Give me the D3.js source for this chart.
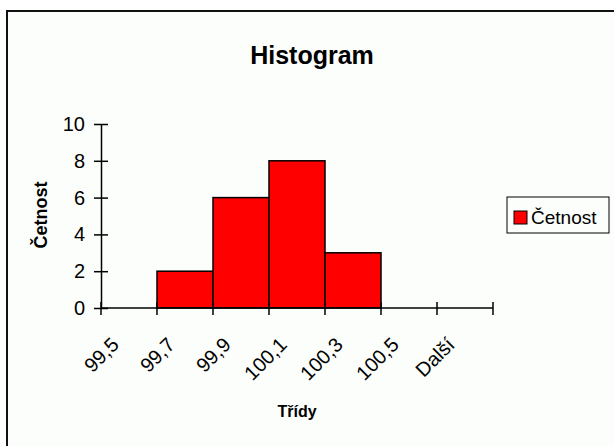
<!DOCTYPE html>
<html>
<head>
<meta charset="utf-8">
<script src="https://cdn.jsdelivr.net/npm/d3@7"></script>
<style>
  body { margin: 0; background: #fff; }
  text { font-family: Arial, "Liberation Sans", sans-serif; fill: #000; }
</style>
</head>
<body>
<svg id="svg" width="614" height="446"></svg>
<script>
// histogram data (Excel style)
const classes = ["99,5", "99,7", "99,9", "100,1", "100,3", "100,5", "Další"];
const counts = [0, 2, 6, 8, 3, 0, 0];
const yTicks = [0, 2, 4, 6, 8, 10];

var width = 614;
var height = 446;
var margin = {top: 124, right: 121, bottom: 138, left: 101};

var svg = d3.select("#svg");

// chart area frame (cut off at right/bottom like the screenshot)
svg.append("rect")
    .attr("x", 7)
    .attr("y", 11)
    .attr("width", 700)
    .attr("height", 500)
    .attr("fill", "#fcfefb")
    .attr("stroke", "#111")
    .attr("stroke-width", 2);

var x = d3.scaleBand()
    .range([margin.left, width - margin.right])
    .domain(classes)
    .padding(0);

var y = d3.scaleLinear()
    .range([height - margin.bottom, margin.top])
    .domain([0, 10]);

svg.append("text") //title
    .attr("x", 312)
    .attr("y", 64)
    .attr("text-anchor", "middle")
    .style("font-size", "25px")
    .style("font-weight", "bold")
    .text("Histogram");

// bars
svg.append("g")
    .selectAll("rect")
    .data(classes.map((c, i) => ({key: c, value: counts[i]})).filter(d => d.value > 0))
    .join("rect")
      .attr("x", d => x(d.key))
      .attr("y", d => y(d.value))
      .attr("width", x.bandwidth())
      .attr("height", d => y(0) - y(d.value))
      .attr("fill", "#ff0000")
      .attr("stroke", "#000")
      .attr("stroke-width", 1.5);

// y axis
var yAxis = svg.append("g")
    .attr("transform", "translate(" + margin.left + ",0)")
    .call(d3.axisLeft(y).tickValues(yTicks).tickSize(7).tickSizeOuter(0).tickPadding(9));
yAxis.selectAll(".tick line").attr("x2", 7).attr("x1", -7);
yAxis.select(".domain").attr("stroke", "#000").attr("stroke-width", 1.5);
yAxis.selectAll(".tick line").attr("stroke", "#000").attr("stroke-width", 1.5);
yAxis.selectAll("text")
    .attr("x", -16)
    .style("font-size", "20px")
    .style("font-family", "Arial, 'Liberation Sans', sans-serif");

// x axis: ticks on class boundaries
var xEdges = classes.map(c => x(c)).concat([x(classes[classes.length - 1]) + x.bandwidth()]);
var xAxis = svg.append("g");
xAxis.append("line")
    .attr("x1", xEdges[0])
    .attr("x2", xEdges[xEdges.length - 1])
    .attr("y1", y(0))
    .attr("y2", y(0))
    .attr("stroke", "#000")
    .attr("stroke-width", 1.5);
xAxis.selectAll(".xtick")
    .data(xEdges)
    .join("line")
      .attr("class", "xtick")
      .attr("x1", d => d)
      .attr("x2", d => d)
      .attr("y1", y(0) - 6)
      .attr("y2", y(0) + 7)
      .attr("stroke", "#000")
      .attr("stroke-width", 1.5);
xAxis.selectAll(".xlabel")
    .data(classes)
    .join("text")
      .attr("class", "xlabel")
      .attr("text-anchor", "end")
      .attr("transform", d => "translate(" + (x(d) + x.bandwidth() / 2 - 9) + "," + 346 + ") rotate(-45)")
      .style("font-size", "20px")
      .text(d => d);

// axis titles
svg.append("text")
    .attr("text-anchor", "middle")
    .attr("transform", "translate(47,215) rotate(-90)")
    .style("font-size", "18px")
    .style("font-weight", "bold")
    .text("Četnost");

svg.append("text")
    .attr("x", 297)
    .attr("y", 417)
    .attr("text-anchor", "middle")
    .style("font-size", "16px")
    .style("font-weight", "bold")
    .text("Třídy");

// legend
var legend = svg.append("g");
legend.append("rect")
    .attr("x", 507)
    .attr("y", 197)
    .attr("width", 102)
    .attr("height", 36)
    .attr("fill", "#fcfefb")
    .attr("stroke", "#000")
    .attr("stroke-width", 1);
legend.append("rect")
    .attr("x", 514)
    .attr("y", 211)
    .attr("width", 13)
    .attr("height", 13)
    .attr("fill", "#ff0000")
    .attr("stroke", "#000")
    .attr("stroke-width", 1);
legend.append("text")
    .attr("x", 531)
    .attr("y", 224)
    .style("font-size", "19px")
    .text("Četnost");
</script>
</body>
</html>
